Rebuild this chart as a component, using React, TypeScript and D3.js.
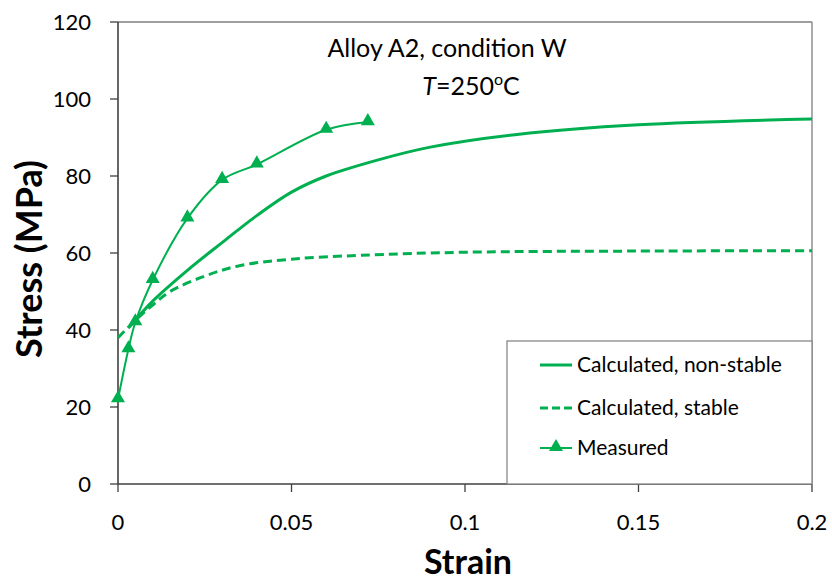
import React from "react";
import * as d3 from "d3";

const xTicks = [0, 0.05, 0.1, 0.15, 0.2];
const xTickLabels = ["0", "0.05", "0.1", "0.15", "0.2"];
const yTicks = [0, 20, 40, 60, 80, 100, 120];
const yTickLabels = ["0", "20", "40", "60", "80", "100", "120"];

const nonStableStrain = [0.003, 0.01, 0.02, 0.03, 0.04, 0.05, 0.06, 0.075, 0.09, 0.115, 0.15, 0.2];
const nonStableStress = [40.5, 47.5, 55.5, 62.7, 69.7, 75.8, 80, 84.2, 87.5, 90.8, 93.3, 94.8];

const stableStrain = [0, 0.005, 0.01, 0.015, 0.025, 0.035, 0.05, 0.07, 0.1, 0.15, 0.2];
const stableStress = [38, 42.5, 46.5, 50, 54, 56.7, 58.4, 59.4, 60.2, 60.5, 60.6];

const measuredStrain = [0, 0.003, 0.005, 0.01, 0.02, 0.03, 0.04, 0.06, 0.072];
const measuredStress = [22, 35, 42, 53, 69, 79, 83, 92, 94];

const legendLabels = ["Calculated, non-stable", "Calculated, stable", "Measured"];

const GREEN = "#00B050";
const FONT = "Lato, 'Open Sans', sans-serif";

export default function App() {
  const W = 832, H = 582;
  const left = 118, right = 812, top = 22, bottom = 484;
  const x = d3.scaleLinear().domain([0, 0.2]).range([left, right]);
  const y = d3.scaleLinear().domain([0, 120]).range([bottom, top]);

  const zip = (a: number[], b: number[]) => a.map((v, i) => [v, b[i]] as [number, number]);
  const smooth = d3.line<[number, number]>().x(d => x(d[0])).y(d => y(d[1])).curve(d3.curveCatmullRom.alpha(0.5));

  const nonStable = zip(nonStableStrain, nonStableStress);
  const stable = zip(stableStrain, stableStress);
  const measured = zip(measuredStrain, measuredStress);

  const tri = d3.symbol().type(d3.symbolTriangle).size(85)();

  const lgLeft = 507, lgTop = 341;
  const rowY = [365, 408, 448];

  return (
    <svg width={W} height={H} style={{ position: "absolute", left: 0, top: 0 }}>
      <rect x={0} y={0} width={W} height={H} fill="#fff" />
      {/* plot border */}
      <line x1={left} x2={right} y1={top} y2={top} stroke="#7f7f7f" strokeWidth={1.3} />
      <line x1={right} x2={right} y1={top} y2={bottom} stroke="#7f7f7f" strokeWidth={1.3} />
      {/* y axis */}
      <line x1={left} x2={left} y1={top} y2={bottom} stroke="#404040" strokeWidth={1.6} />
      {yTicks.map((t, i) => (
        <g key={"y" + i}>
          <line x1={left - 8} x2={left} y1={y(t)} y2={y(t)} stroke="#404040" strokeWidth={1.3} />
          <text x={91} y={y(t)} dy="0.36em" textAnchor="end" fontFamily={FONT} fontSize={22} fill="#000">{yTickLabels[i]}</text>
        </g>
      ))}
      {/* x axis */}
      <line x1={left} x2={right} y1={bottom} y2={bottom} stroke="#404040" strokeWidth={1.6} />
      {xTicks.map((t, i) => (
        <g key={"x" + i}>
          <line x1={x(t)} x2={x(t)} y1={bottom} y2={bottom + 8} stroke="#404040" strokeWidth={1.3} />
          <text x={x(t)} y={530} textAnchor="middle" fontFamily={FONT} fontSize={22} fill="#000">{xTickLabels[i]}</text>
        </g>
      ))}
      <text x={468} y={574} textAnchor="middle" fontFamily={FONT} fontWeight="bold" fontSize={34} fill="#000">Strain</text>
      <text transform={`translate(42,259) rotate(-90)`} textAnchor="middle" fontFamily={FONT} fontWeight="bold" fontSize={36} fill="#000">Stress (MPa)</text>

      {/* title */}
      <text x={447} y={57} textAnchor="middle" fontFamily={FONT} fontSize={25} fill="#000">Alloy A2, condition W</text>
      <text x={471} y={95} textAnchor="middle" fontFamily={FONT} fontSize={25} fill="#000">
        <tspan fontStyle="italic">T</tspan>=250<tspan dy={-10} fontSize={16}>o</tspan><tspan dy={10}>C</tspan>
      </text>

      {/* legend box */}
      <rect x={lgLeft} y={lgTop} width={right - lgLeft} height={bottom - lgTop} fill="#fff" stroke="#7f7f7f" strokeWidth={1.2} />
      <line x1={540} x2={572} y1={rowY[0]} y2={rowY[0]} stroke={GREEN} strokeWidth={3} />
      <line x1={540} x2={572} y1={rowY[1]} y2={rowY[1]} stroke={GREEN} strokeWidth={3} strokeDasharray="8,4" />
      <line x1={540} x2={572} y1={rowY[2]} y2={rowY[2]} stroke={GREEN} strokeWidth={2} />
      <path d={tri ?? ""} transform={`translate(556,${rowY[2] - 1})`} fill={GREEN} />
      {legendLabels.map((l, i) => (
        <text key={l} x={577} y={rowY[i]} dy="0.35em" fontFamily={FONT} fontSize={21} fill="#000">{l}</text>
      ))}

      {/* series */}
      <path d={smooth(stable) ?? ""} fill="none" stroke={GREEN} strokeWidth={3} strokeDasharray="9,5" />
      <path d={smooth(nonStable) ?? ""} fill="none" stroke={GREEN} strokeWidth={3} />
      <path d={smooth(measured) ?? ""} fill="none" stroke={GREEN} strokeWidth={2} />
      {measured.map((d, i) => (
        <path key={"m" + i} d={tri ?? ""} transform={`translate(${x(d[0])},${y(d[1]) - 1})`} fill={GREEN} />
      ))}
    </svg>
  );
}
